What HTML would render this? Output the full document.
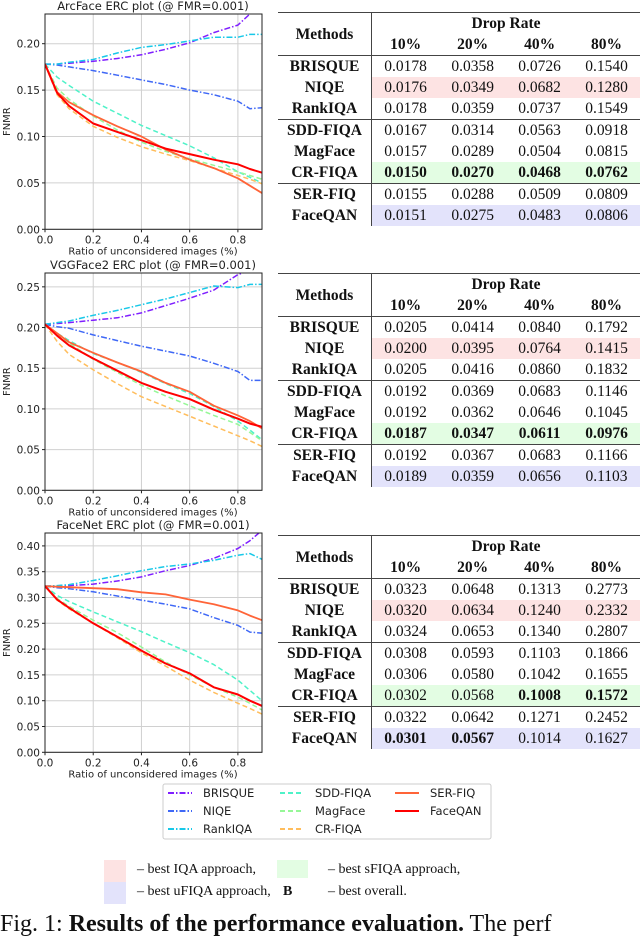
<!DOCTYPE html>
<html><head><meta charset="utf-8">
<style>
body{margin:0;width:640px;height:929px;overflow:hidden;background:#fff;position:relative;font-family:"Liberation Serif",serif;}
svg{position:absolute;left:0;top:0;}
.tbl{position:absolute;left:278px;width:362px;border-collapse:collapse;font-family:"Liberation Serif",serif;font-size:15.5px;color:#111;}
.tbl td,.tbl th{padding:0;text-align:center;height:21px;line-height:21px;}
.tbl th{font-weight:bold;}
.tbl td.m{font-weight:bold;width:93px;border-right:1.5px solid #444;}
.tbl tr.top th{border-top:1.5px solid #444;}
.tbl tr.hd th{border-bottom:1.5px solid #444;height:21px;}
.tbl tr.sep td{border-top:1.5px solid #444;}
.pk td:not(.m){background:#fde3e3;}
.gr td:not(.m){background:#e3fde3;}
.bl td:not(.m){background:#e3e3fb;}
b{font-weight:bold;}
</style></head><body>
<svg id="chart" width="640" height="929" xmlns="http://www.w3.org/2000/svg"></svg>

<table class="tbl" style="top:12px">
<tr class="top"><th rowspan="2" style="border-right:1.5px solid #444;border-bottom:1.5px solid #444">Methods</th><th colspan="4">Drop Rate</th></tr>
<tr class="hd"><th>10%</th><th>20%</th><th>40%</th><th>80%</th></tr>
<tr><td class="m">BRISQUE</td><td>0.0178</td><td>0.0358</td><td>0.0726</td><td>0.1540</td></tr>
<tr class="pk"><td class="m">NIQE</td><td>0.0176</td><td>0.0349</td><td>0.0682</td><td>0.1280</td></tr>
<tr><td class="m">RankIQA</td><td>0.0178</td><td>0.0359</td><td>0.0737</td><td>0.1549</td></tr>
<tr class="sep"><td class="m">SDD-FIQA</td><td>0.0167</td><td>0.0314</td><td>0.0563</td><td>0.0918</td></tr>
<tr><td class="m">MagFace</td><td>0.0157</td><td>0.0289</td><td>0.0504</td><td>0.0815</td></tr>
<tr class="gr"><td class="m">CR-FIQA</td><td><b>0.0150</b></td><td><b>0.0270</b></td><td><b>0.0468</b></td><td><b>0.0762</b></td></tr>
<tr class="sep"><td class="m">SER-FIQ</td><td>0.0155</td><td>0.0288</td><td>0.0509</td><td>0.0809</td></tr>
<tr class="bl"><td class="m">FaceQAN</td><td>0.0151</td><td>0.0275</td><td>0.0483</td><td>0.0806</td></tr>
</table>

<table class="tbl" style="top:273px">
<tr class="top"><th rowspan="2" style="border-right:1.5px solid #444;border-bottom:1.5px solid #444">Methods</th><th colspan="4">Drop Rate</th></tr>
<tr class="hd"><th>10%</th><th>20%</th><th>40%</th><th>80%</th></tr>
<tr><td class="m">BRISQUE</td><td>0.0205</td><td>0.0414</td><td>0.0840</td><td>0.1792</td></tr>
<tr class="pk"><td class="m">NIQE</td><td>0.0200</td><td>0.0395</td><td>0.0764</td><td>0.1415</td></tr>
<tr><td class="m">RankIQA</td><td>0.0205</td><td>0.0416</td><td>0.0860</td><td>0.1832</td></tr>
<tr class="sep"><td class="m">SDD-FIQA</td><td>0.0192</td><td>0.0369</td><td>0.0683</td><td>0.1146</td></tr>
<tr><td class="m">MagFace</td><td>0.0192</td><td>0.0362</td><td>0.0646</td><td>0.1045</td></tr>
<tr class="gr"><td class="m">CR-FIQA</td><td><b>0.0187</b></td><td><b>0.0347</b></td><td><b>0.0611</b></td><td><b>0.0976</b></td></tr>
<tr class="sep"><td class="m">SER-FIQ</td><td>0.0192</td><td>0.0367</td><td>0.0683</td><td>0.1166</td></tr>
<tr class="bl"><td class="m">FaceQAN</td><td>0.0189</td><td>0.0359</td><td>0.0656</td><td>0.1103</td></tr>
</table>

<table class="tbl" style="top:535px">
<tr class="top"><th rowspan="2" style="border-right:1.5px solid #444;border-bottom:1.5px solid #444">Methods</th><th colspan="4">Drop Rate</th></tr>
<tr class="hd"><th>10%</th><th>20%</th><th>40%</th><th>80%</th></tr>
<tr><td class="m">BRISQUE</td><td>0.0323</td><td>0.0648</td><td>0.1313</td><td>0.2773</td></tr>
<tr class="pk"><td class="m">NIQE</td><td>0.0320</td><td>0.0634</td><td>0.1240</td><td>0.2332</td></tr>
<tr><td class="m">RankIQA</td><td>0.0324</td><td>0.0653</td><td>0.1340</td><td>0.2807</td></tr>
<tr class="sep"><td class="m">SDD-FIQA</td><td>0.0308</td><td>0.0593</td><td>0.1103</td><td>0.1866</td></tr>
<tr><td class="m">MagFace</td><td>0.0306</td><td>0.0580</td><td>0.1042</td><td>0.1655</td></tr>
<tr class="gr"><td class="m">CR-FIQA</td><td>0.0302</td><td>0.0568</td><td><b>0.1008</b></td><td><b>0.1572</b></td></tr>
<tr class="sep"><td class="m">SER-FIQ</td><td>0.0322</td><td>0.0642</td><td>0.1271</td><td>0.2452</td></tr>
<tr class="bl"><td class="m">FaceQAN</td><td><b>0.0301</b></td><td><b>0.0567</b></td><td>0.1014</td><td>0.1627</td></tr>
</table>

<div style="position:absolute;left:0;top:0;font-family:'Liberation Serif',serif;font-size:14px;color:#111;">
<div style="position:absolute;left:104px;top:860px;width:22px;height:22px;background:#fde3e3"></div>
<div style="position:absolute;left:104px;top:882px;width:22px;height:22px;background:#e3e3fb"></div>
<div style="position:absolute;left:277px;top:860px;width:31px;height:18px;background:#e3fde3"></div>
<div style="position:absolute;left:137px;top:862px;white-space:nowrap">– best IQA approach,</div>
<div style="position:absolute;left:137px;top:884px;white-space:nowrap">– best uFIQA approach,</div>
<div style="position:absolute;left:328px;top:862px;white-space:nowrap">– best sFIQA approach,</div>
<div style="position:absolute;left:283px;top:884px;font-weight:bold">B</div>
<div style="position:absolute;left:328px;top:884px;white-space:nowrap">– best overall.</div>
</div>
<div style="position:absolute;left:0;top:911px;font-size:24px;white-space:nowrap;color:#111">Fig. 1: <b>Results of the performance evaluation.</b> The perf</div>

<script>
const xs = [0,0.05,0.1,0.2,0.3,0.4,0.5,0.6,0.7,0.8,0.85,0.9];
const methods = ["BRISQUE","NIQE","RankIQA","SDD-FIQA","MagFace","CR-FIQA","SER-FIQ","FaceQAN"];
const arcBRISQUE=[0.178,0.178,0.179,0.181,0.184,0.188,0.194,0.201,0.212,0.220,0.232,0.240];
const arcNIQE=[0.178,0.177,0.175,0.171,0.166,0.161,0.156,0.150,0.145,0.138,0.130,0.131];
const arcRankIQA=[0.178,0.178,0.180,0.183,0.190,0.196,0.199,0.203,0.207,0.207,0.210,0.210];
const arcSDD=[0.178,0.164,0.155,0.138,0.125,0.112,0.101,0.090,0.077,0.062,0.056,0.050];
const arcMag=[0.178,0.152,0.140,0.122,0.107,0.094,0.084,0.076,0.069,0.062,0.058,0.054];
const arcCR=[0.178,0.145,0.130,0.111,0.099,0.089,0.081,0.074,0.066,0.058,0.054,0.049];
const arcSER=[0.178,0.148,0.137,0.123,0.111,0.100,0.086,0.075,0.066,0.055,0.047,0.039];
const arcQAN=[0.178,0.147,0.133,0.114,0.105,0.096,0.087,0.081,0.075,0.070,0.065,0.061];
const vggBRISQUE=[0.204,0.205,0.206,0.209,0.212,0.218,0.227,0.236,0.246,0.265,0.270,0.280];
const vggNIQE=[0.204,0.201,0.199,0.191,0.184,0.177,0.171,0.165,0.156,0.146,0.135,0.135];
const vggRankIQA=[0.204,0.206,0.208,0.215,0.221,0.228,0.235,0.243,0.251,0.249,0.253,0.253];
const vggSDD=[0.204,0.193,0.184,0.168,0.157,0.145,0.131,0.119,0.103,0.085,0.074,0.062];
const vggMag=[0.204,0.192,0.181,0.161,0.145,0.129,0.116,0.104,0.092,0.081,0.071,0.061];
const vggCR=[0.204,0.183,0.167,0.148,0.131,0.115,0.103,0.091,0.079,0.067,0.061,0.054];
const vggSER=[0.204,0.193,0.182,0.169,0.157,0.146,0.132,0.121,0.104,0.092,0.085,0.076];
const vggQAN=[0.204,0.190,0.178,0.162,0.147,0.132,0.121,0.112,0.099,0.088,0.082,0.078];
const fnBRISQUE=[0.322,0.322,0.323,0.326,0.332,0.340,0.352,0.362,0.376,0.395,0.410,0.430];
const fnNIQE=[0.322,0.319,0.317,0.311,0.303,0.295,0.287,0.278,0.261,0.246,0.233,0.231];
const fnRankIQA=[0.322,0.323,0.325,0.333,0.342,0.352,0.360,0.365,0.372,0.382,0.385,0.374];
const fnSDD=[0.322,0.304,0.292,0.272,0.253,0.234,0.213,0.193,0.170,0.140,0.120,0.100];
const fnMag=[0.322,0.298,0.283,0.256,0.232,0.204,0.175,0.150,0.126,0.107,0.095,0.082];
const fnCR=[0.322,0.295,0.278,0.250,0.222,0.193,0.167,0.140,0.116,0.095,0.085,0.074];
const fnSER=[0.322,0.321,0.320,0.318,0.316,0.310,0.306,0.296,0.287,0.275,0.265,0.256];
const fnQAN=[0.322,0.296,0.280,0.250,0.224,0.197,0.172,0.153,0.126,0.112,0.100,0.090];
const xTicks=[0,0.2,0.4,0.6,0.8];
const yTicksArc=[0,0.05,0.10,0.15,0.20];
const yTicksVgg=[0,0.05,0.10,0.15,0.20,0.25];
const yTicksFn=[0,0.05,0.10,0.15,0.20,0.25,0.30,0.35,0.40];

const colors=["#7f1fff","#3f68f6","#18c8e8","#4ef2c8","#96f797","#ffbd5c","#ff6438","#ff0000"];
const dashes=["6,2,1.5,2","6,2,1.5,2","6,2,1.5,2","5,3","5,3","5,3",null,null];
const widths=[1.5,1.5,1.5,1.5,1.5,1.5,1.8,2];
const NS="http://www.w3.org/2000/svg";
const svg=document.getElementById('chart');
function mk(tag,attrs,parent){const e=document.createElementNS(NS,tag);for(const k in attrs)e.setAttribute(k,attrs[k]);(parent||svg).appendChild(e);return e;}

const charts=[
 {id:"arcface",title:"ArcFace ERC plot (@ FMR=0.001)",top:14,y0:229.3,ymax:0.232,ticks:yTicksArc,series:[arcBRISQUE,arcNIQE,arcRankIQA,arcSDD,arcMag,arcCR,arcSER,arcQAN]},
 {id:"vggface2",title:"VGGFace2 ERC plot (@ FMR=0.001)",top:273,y0:490.3,ymax:0.267,ticks:yTicksVgg,series:[vggBRISQUE,vggNIQE,vggRankIQA,vggSDD,vggMag,vggCR,vggSER,vggQAN]},
 {id:"facenet",title:"FaceNet ERC plot (@ FMR=0.001)",top:533,y0:752.3,ymax:0.425,ticks:yTicksFn,series:[fnBRISQUE,fnNIQE,fnRankIQA,fnSDD,fnMag,fnCR,fnSER,fnQAN]}
];
const L=45,R=262,XMAX=0.9;
function xs2px(v){return L+v/XMAX*(R-L);}
charts.forEach((c,ci)=>{
  const g=mk('g',{});
  
  
  const ys=v=>c.y0-v/c.ymax*(c.y0-c.top);
  xTicks.forEach(t=>{const x=xs2px(t);mk('line',{x1:x,x2:x,y1:c.top,y2:c.y0,stroke:'#d0d0d0','stroke-width':1},g);
    const tl=mk('text',{x:x,y:c.y0+14,'text-anchor':'middle','font-size':'10.5','font-family':'DejaVu Sans,sans-serif',fill:'#222'},g);tl.textContent=t.toFixed(1);
    
    mk('line',{x1:x,x2:x,y1:c.y0,y2:c.y0+3,stroke:'#222'},g);});
  c.ticks.forEach(t=>{const y=ys(t);mk('line',{x1:L,x2:R,y1:y,y2:y,stroke:'#d0d0d0','stroke-width':1},g);
    const tl=mk('text',{x:L-5,y:y+4,'text-anchor':'end','font-size':'10.5','font-family':'DejaVu Sans,sans-serif',fill:'#222'},g);tl.textContent=t.toFixed(2);
    
    mk('line',{x1:L-3,x2:L,y1:y,y2:y,stroke:'#222'},g);});
  mk('clipPath',{id:'clip'+ci},g);
  mk('rect',{x:L,y:c.top,width:R-L,height:c.y0-c.top},g.lastChild);
  c.series.forEach((s,si)=>{
    const pts=s.map((v,i)=>xs2px(xs[i]).toFixed(1)+','+ys(v).toFixed(1)).join(' ');
    const a={points:pts,fill:'none',stroke:colors[si],'stroke-width':widths[si],'clip-path':'url(#clip'+ci+')','stroke-linejoin':'round'};
    if(dashes[si])a['stroke-dasharray']=dashes[si];
    const p=mk('polyline',a,g);
    
    
  });
  mk('rect',{x:L,y:c.top,width:R-L,height:c.y0-c.top,fill:'none',stroke:'#222','stroke-width':1},g);
  const t=mk('text',{x:153,y:c.top-4,'text-anchor':'middle','font-size':'11.5','font-family':'DejaVu Sans,sans-serif',fill:'#222'},g);t.textContent=c.title;
  
  const xl=mk('text',{x:153,y:c.y0+25,'text-anchor':'middle','font-size':'10','font-family':'DejaVu Sans,sans-serif',fill:'#222'},g);xl.textContent='Ratio of unconsidered images (%)';
  
  const my=(c.top+c.y0)/2;
  const yl=mk('text',{x:10,y:my,'text-anchor':'middle','font-size':'10','font-family':'DejaVu Sans,sans-serif',fill:'#222',transform:'rotate(-90 10 '+my+')'},g);yl.textContent='FNMR';
  
});
// legend
const lg=mk('g',{});


mk('rect',{x:163,y:784,width:328,height:55,rx:2,fill:'#fff',stroke:'#ccc'},lg);
methods.forEach((m,i)=>{
  const col=Math.floor(i/3),row=i%3;
  const x=[168,280,395][col],y=793+row*18;
  const a={x1:x,x2:x+24,y1:y,y2:y,stroke:colors[i],'stroke-width':2};
  if(dashes[i])a['stroke-dasharray']=dashes[i];
  mk('line',a,lg);
  const t=mk('text',{x:x+35,y:y+4,'font-size':'11.5','font-family':'DejaVu Sans,sans-serif',fill:'#222'},lg);t.textContent=m;
  
});
</script>
</body></html>
